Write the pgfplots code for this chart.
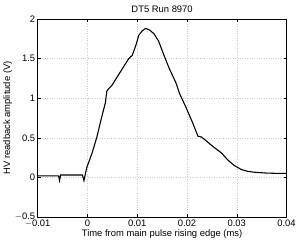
\documentclass[border=0pt]{standalone}
\usepackage{pgfplots}
\pgfplotsset{compat=1.18}
\usepackage{fontspec}
\setmainfont{Liberation Sans}
\begin{document}
\begin{tikzpicture}
\begin{axis}[
  scale only axis,
  width=250bp, height=199bp,
  scaled ticks=false,
  xmin=-0.01, xmax=0.04, ymin=-0.5, ymax=2,
  xtick={-0.01,0,0.01,0.02,0.03,0.04},
  xticklabels={$-$0.01,0,0.01,0.02,0.03,0.04},
  ytick={-0.5,0,0.5,1,1.5,2},
  yticklabels={$-$0.5,0,0.5,1,1.5,2},
  tick align=inside,
  major tick length=3bp,
  tick style={black, line width=0.4pt},
  grid=major,
  major grid style={gray!40, dotted, line width=0.4pt},
  axis line style={black, line width=0.5pt},
  tick label style={font=\fontsize{9.5}{10}\selectfont},
  label style={font=\fontsize{9.5}{10}\selectfont},
  title style={font=\fontsize{9.5}{10}\selectfont, yshift=-3bp},
  title={DT5 Run 8970},
  xlabel={Time from main pulse rising edge (ms)},
  ylabel={HV readback amplitude (V)},
  xlabel style={yshift=4bp},
  ylabel style={yshift=-4bp},
  xticklabel style={yshift=1bp},
  yticklabel style={xshift=1bp},
]
\addplot[black, line width=1.1pt] coordinates {
(-0.0100,0.02) (-0.0080,0.02) (-0.0058,0.02) (-0.0056,-0.04) (-0.0054,0.03)
(-0.0040,0.03) (-0.0020,0.03) (-0.0010,0.03) (-0.0007,-0.04) (-0.0004,0.05)
(-0.0001,0.13) (0.0009,0.30) (0.0019,0.51) (0.0029,0.77) (0.0036,0.94)
(0.0039,1.09) (0.0043,1.12) (0.0049,1.16) (0.0059,1.26) (0.0073,1.40)
(0.0083,1.50) (0.0090,1.54) (0.0097,1.66) (0.0103,1.79) (0.0110,1.85)
(0.0117,1.88) (0.0125,1.86) (0.0134,1.81) (0.0143,1.72) (0.0152,1.57)
(0.0164,1.38) (0.0178,1.19) (0.0185,1.06) (0.0199,0.87) (0.0212,0.68)
(0.0222,0.52) (0.0229,0.51) (0.0239,0.46) (0.0252,0.39) (0.0269,0.31)
(0.0282,0.22) (0.0295,0.15) (0.0309,0.10) (0.0322,0.076) (0.0339,0.063)
(0.0359,0.055) (0.0379,0.051) (0.0400,0.05)
};
\end{axis}
\path (current axis.south west) ++(-37bp,-24bp);
\path (current axis.north east) ++(12bp,19bp);
\end{tikzpicture}
\end{document}
